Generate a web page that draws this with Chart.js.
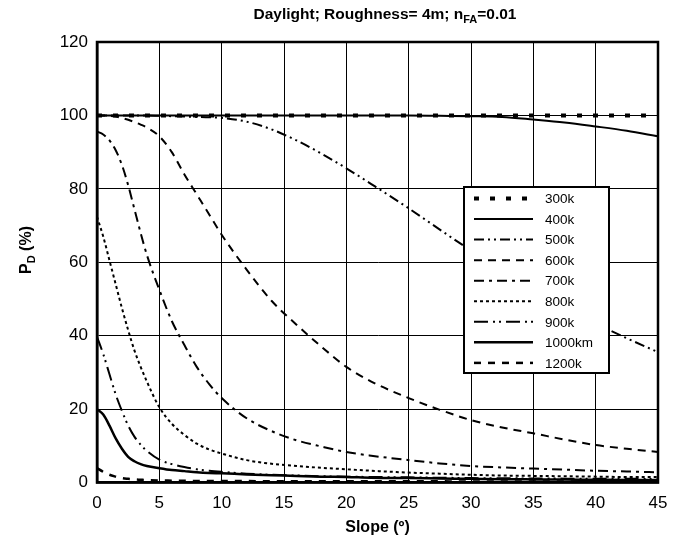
<!DOCTYPE html>
<html>
<head>
<meta charset="utf-8">
<script src="https://cdn.jsdelivr.net/npm/chart.js@4.4.1/dist/chart.umd.min.js"></script>
<style>
html,body{margin:0;padding:0;background:#fff;}
#wrap{width:683px;height:546px;position:relative;}
</style>
</head>
<body>
<div id="wrap"><canvas id="c" width="683" height="546"></canvas></div>
<script>
// ---- data ----
const slopes = [0,0.5,1,1.5,2,2.5,3,3.5,4,5,6,7,8,9,10,12,14,16,18,20,22,25,27.5,30,32.5,35,37.5,40,42.5,45];
const seriesNames = ["300k","400k","500k","600k","700k","800k","900k","1000km","1200k"];
const p300 = [100,100,100,100,100,100,100,100,100,100,100,100,100,100,100,100,100,100,100,100,100,100,100,100,100,100,100,100,100,100];
const p400 = [100,100,100,100,100,100,100,100,100,100,100,100,100,100,100,100,100,100,100,100,100,100,99.9,99.8,99.6,98.9,98.1,97,95.8,94.3];
const p500 = [100,100,100,100,100,100,100,100,100,99.9,99.8,99.7,99.6,99.5,99.3,98.3,96.2,93.2,89.6,85.6,81.3,74.7,68.9,63.2,58,52.6,47.5,43.3,39.3,35.5];
const p600 = [100,100,99.9,99.7,99.3,98.8,98.2,97.5,96.7,94.3,90,84,78.5,73,67.5,58,49.5,43,37,31.5,27.5,23,19.8,17,15,13.4,11.7,10.2,9.2,8.3];
const p700 = [95.6,94.8,93.2,90.5,86.5,81,74.5,68,62,52.5,44,37.5,31.5,26.8,23,17.5,14,11.5,9.8,8.3,7.3,6.1,5.2,4.5,4.1,3.8,3.5,3.2,3,2.8];
const p800 = [72.4,67,60.5,54,47.5,41.5,36,31.5,27.5,20.5,16,13,10.6,9,7.9,6.1,5.1,4.5,4,3.6,3.2,2.7,2.4,2.1,1.9,1.8,1.7,1.6,1.5,1.5];
const p900 = [39.7,35,29.5,24,19.5,15.5,12.5,10.3,8.6,6.2,5,4.2,3.6,3.2,2.9,2.4,2.1,1.9,1.7,1.6,1.5,1.4,1.3,1.2,1.15,1.1,1.05,1,1,0.95];
const p1000 = [20,18.5,15.5,12,9.2,7,5.8,5,4.5,3.9,3.4,3.1,2.8,2.6,2.5,2.2,2,1.8,1.6,1.5,1.3,1.2,1.1,1,0.9,0.85,0.8,0.75,0.7,0.7];
const p1200 = [3.9,2.9,2.1,1.6,1.2,1,0.85,0.75,0.65,0.55,0.5,0.45,0.42,0.4,0.4,0.38,0.36,0.35,0.34,0.33,0.32,0.32,0.31,0.3,0.3,0.3,0.3,0.3,0.3,0.3];
const xTicks = [0,5,10,15,20,25,30,35,40,45];
const yTicks = [0,20,40,60,80,100,120];

const allValues = [p300,p400,p500,p600,p700,p800,p900,p1000,p1200];
const styles = [
  {w:4,   dash:[5,11]},
  {w:2,   dash:[]},
  {w:2,   dash:[10,4,2,4,2,4]},
  {w:2,   dash:[8,6]},
  {w:2,   dash:[10,5,3,5]},
  {w:2,   dash:[3,3]},
  {w:2,   dash:[14,5,2,4,2,5]},
  {w:2.5, dash:[]},
  {w:2.5, dash:[7,7]}
];

const datasets = seriesNames.map((n,i)=>({
  label:n,
  data: slopes.map((s,j)=>({x:s,y:allValues[i][j]})),
  borderColor:'#000',
  backgroundColor:'#000',
  borderWidth:styles[i].w,
  borderDash:styles[i].dash,
  pointRadius:0,
  cubicInterpolationMode:'monotone',
  fill:false
}));

const FONT = "'Liberation Sans', Arial, Helvetica, sans-serif";

const decor = {
  id:'decor',
  afterDraw(chart){
    const ctx = chart.ctx, a = chart.chartArea;
    ctx.save();
    // frame
    ctx.strokeStyle='#000'; ctx.lineWidth=2.5; ctx.setLineDash([]);
    ctx.strokeRect(a.left,a.top,a.right-a.left,a.bottom-a.top);
    // title with subscript
    ctx.fillStyle='#000';
    ctx.textBaseline='alphabetic';
    const parts = [["Daylight; Roughness= 4m; n",15.5,0],["FA",11,4],["=0.01",15.5,0]];
    let tw=0;
    parts.forEach(p=>{ctx.font="bold "+p[1]+"px "+FONT; tw+=ctx.measureText(p[0]).width;});
    let x = 385 - tw/2;
    parts.forEach(p=>{ctx.font="bold "+p[1]+"px "+FONT; ctx.fillText(p[0],x,19+p[2]); x+=ctx.measureText(p[0]).width;});
    // x title
    ctx.font="bold 16px "+FONT; ctx.textAlign='center';
    ctx.fillText("Slope (\u00BA)", (a.left+a.right)/2, 532);
    // y title rotated
    ctx.translate(31,250); ctx.rotate(-Math.PI/2);
    const yp = [["P",16,0],["D",11,4],[" (%)",16,0]];
    let yw=0; ctx.textAlign='left';
    yp.forEach(p=>{ctx.font="bold "+p[1]+"px "+FONT; yw+=ctx.measureText(p[0]).width;});
    let yx=-yw/2;
    yp.forEach(p=>{ctx.font="bold "+p[1]+"px "+FONT; ctx.fillText(p[0],yx,p[2]); yx+=ctx.measureText(p[0]).width;});
    ctx.restore();
    // legend
    ctx.save();
    const L=464,T=187,R=609,B=373;
    ctx.fillStyle='#fff'; ctx.fillRect(L,T,R-L,B-T);
    ctx.strokeStyle='#000'; ctx.lineWidth=2; ctx.strokeRect(L,T,R-L,B-T);
    ctx.font="13.5px "+FONT; ctx.fillStyle='#000'; ctx.textBaseline='middle'; ctx.textAlign='left';
    chart.data.datasets.forEach((d,i)=>{
      const y = 198.5 + i*20.55;
      ctx.beginPath(); ctx.setLineDash(d.borderDash); ctx.lineWidth=d.borderWidth;
      ctx.moveTo(474,y); ctx.lineTo(533,y); ctx.stroke();
      ctx.setLineDash([]);
      ctx.fillText(d.label,545,y+1);
    });
    ctx.restore();
  }
};

new Chart(document.getElementById('c'),{
  type:'line',
  data:{datasets},
  options:{
    responsive:false,
    animation:false,
    layout:{padding:{left:0,top:42,right:25,bottom:0}},
    plugins:{legend:{display:false},title:{display:false},tooltip:{enabled:false}},
    scales:{
      x:{
        type:'linear', min:0, max:45,
        afterBuildTicks:(s)=>{s.ticks = xTicks.map(v=>({value:v}));},
        afterFit:(s)=>{s.height=63.5;},
        grid:{color:'#000',lineWidth:1,drawTicks:false},
        border:{color:'#000',width:2.5},
        ticks:{color:'#000',font:{family:FONT,size:17},padding:11,maxRotation:0}
      },
      y:{
        min:0, max:120,
        afterBuildTicks:(s)=>{s.ticks = yTicks.map(v=>({value:v}));},
        afterFit:(s)=>{s.width=97;},
        grid:{color:'#000',lineWidth:1,drawTicks:false},
        border:{color:'#000',width:2.5},
        ticks:{color:'#000',font:{family:FONT,size:17},padding:9}
      }
    }
  },
  plugins:[decor]
});
</script>
</body>
</html>
